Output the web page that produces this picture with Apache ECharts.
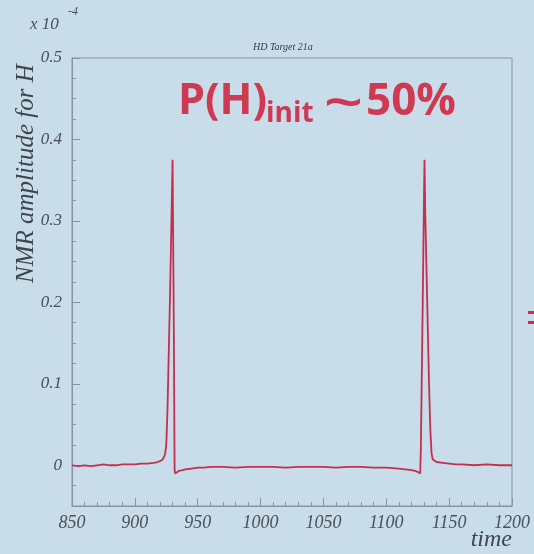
<!DOCTYPE html>
<html><head><meta charset="utf-8">
<script src="https://cdn.jsdelivr.net/npm/echarts@6/dist/echarts.min.js"></script>
<style>html,body{margin:0;padding:0;background:#c9dcea;}#c{width:534px;height:554px;}</style>
</head><body><div id="c"></div>
<script>
// time axis samples
const times = [850,855,860,865,870,875,880,885,890,895,900,905,910,915,918,920,922,923,924,925,926,927,928,929,930,931,931.6,932,933,935,938,940,945,950,955,960,970,980,990,1000,1010,1020,1030,1040,1050,1060,1070,1080,1090,1100,1110,1115,1120,1123,1125,1127,1127.5,1128,1129,1130,1130.4,1131,1132,1133,1134,1135,1136,1137,1138,1140,1145,1150,1155,1160,1170,1180,1190,1200];
// NMR amplitude (x 1e-4)
const amps = [0.000,-0.001,0.000,-0.001,0.000,0.001,0.000,0.000,0.001,0.001,0.001,0.002,0.002,0.003,0.004,0.005,0.007,0.009,0.013,0.025,0.07,0.14,0.21,0.29,0.375,0.17,-0.005,-0.010,-0.009,-0.007,-0.006,-0.005,-0.004,-0.003,-0.003,-0.002,-0.002,-0.003,-0.002,-0.002,-0.002,-0.003,-0.002,-0.002,-0.002,-0.003,-0.002,-0.002,-0.003,-0.003,-0.004,-0.005,-0.006,-0.007,-0.008,-0.010,0.02,0.08,0.20,0.33,0.375,0.31,0.24,0.17,0.10,0.045,0.015,0.007,0.005,0.004,0.003,0.002,0.001,0.001,0.000,0.001,0.000,0.000];
const yMajor = [0,0.1,0.2,0.3,0.4,0.5];
const yMinor = [-0.025,0.025,0.05,0.075,0.125,0.15,0.175,0.225,0.25,0.275,0.325,0.35,0.375,0.425,0.45,0.475];
const xMin = 850, xMax = 1200, xStep = 50;
const yMin = -0.05, yMax = 0.5;

const data = times.map((t,i)=>[t, amps[i]]);
const serif = '"Liberation Serif", "DejaVu Serif", serif';
const labelColor = '#4a5056';
const frame = '#8595a3';
const red = '#cf3a52';

const chart = echarts.init(document.getElementById('c'));
chart.setOption({
  backgroundColor: '#c9dcea',
  animation: false,
  grid: {left:72, right:22, top:58, bottom:48, show:true, borderColor:frame, borderWidth:1, backgroundColor:'transparent'},
  xAxis: {
    type:'value', min:xMin, max:xMax, interval:xStep,
    axisLine:{show:true, onZero:false, lineStyle:{color:frame}},
    axisTick:{inside:true, length:8, lineStyle:{color:frame}},
    minorTick:{show:true, splitNumber:5, length:4, lineStyle:{color:frame}},
    splitLine:{show:false},
    axisLabel:{fontFamily:serif, fontStyle:'italic', fontSize:18, color:labelColor, margin:8, formatter:v=>String(v)}
  },
  yAxis: [{
    type:'value', min:yMin, max:yMax,
    axisLine:{show:true, onZero:false, lineStyle:{color:frame}},
    axisTick:{inside:true, length:8, customValues:yMajor, lineStyle:{color:frame}},
    splitLine:{show:false},
    axisLabel:{customValues:yMajor, fontFamily:serif, fontStyle:'italic', fontSize:17, color:labelColor, margin:10,
      formatter:v=> v===0 ? '0' : v.toFixed(1)}
  },{
    type:'value', min:yMin, max:yMax, position:'left',
    axisLine:{show:false, onZero:false},
    axisTick:{show:true, inside:true, length:4, customValues:yMinor, lineStyle:{color:frame}},
    axisLabel:{show:false}, splitLine:{show:false}
  }],
  series: [{
    type:'line', data:data, showSymbol:false, symbol:'none',
    lineStyle:{color:'#c3304b', width:1.8}, itemStyle:{color:'#c3304b'}
  }],
  graphic: [
    {type:'text', left:253, top:42, style:{text:'HD Target 21a', font:'italic 10px '+serif, fill:'#333a40'}},
    {type:'text', x:30, y:16, style:{text:'x 10', font:'italic 17px '+serif, fill:labelColor}},
    {type:'text', x:68, y:6, style:{text:'-4', font:'italic 12px '+serif, fill:labelColor}},
    {type:'text', x:14, y:283, rotation:Math.PI/2, style:{text:'NMR amplitude for H', font:'italic 25px '+serif, fill:'#3e454b', textAlign:'left', textVerticalAlign:'top'}},
    {type:'text', x:512, y:528, style:{text:'time', font:'italic 24px '+serif, fill:'#3e454b', textAlign:'right'}},
    {type:'text', x:178, y:80, style:{text:'P(H)', font:'bold 43px "Open Sans", sans-serif', fill:red}},
    {type:'text', x:266, y:100, style:{text:'init', font:'bold 28px "Open Sans", sans-serif', fill:red}},
    {type:'text', x:324, y:83, scaleX:1.55, style:{text:'~', font:'bold 44px "Open Sans", sans-serif', fill:red}},
    {type:'text', x:366, y:80, style:{text:'50%', font:'bold 44px "Open Sans", sans-serif', fill:red}},
    {type:'rect', shape:{x:528, y:311, width:8, height:3}, style:{fill:'#c3304b'}},
    {type:'rect', shape:{x:528, y:321, width:8, height:3}, style:{fill:'#c3304b'}}
  ]
});
</script></body></html>
